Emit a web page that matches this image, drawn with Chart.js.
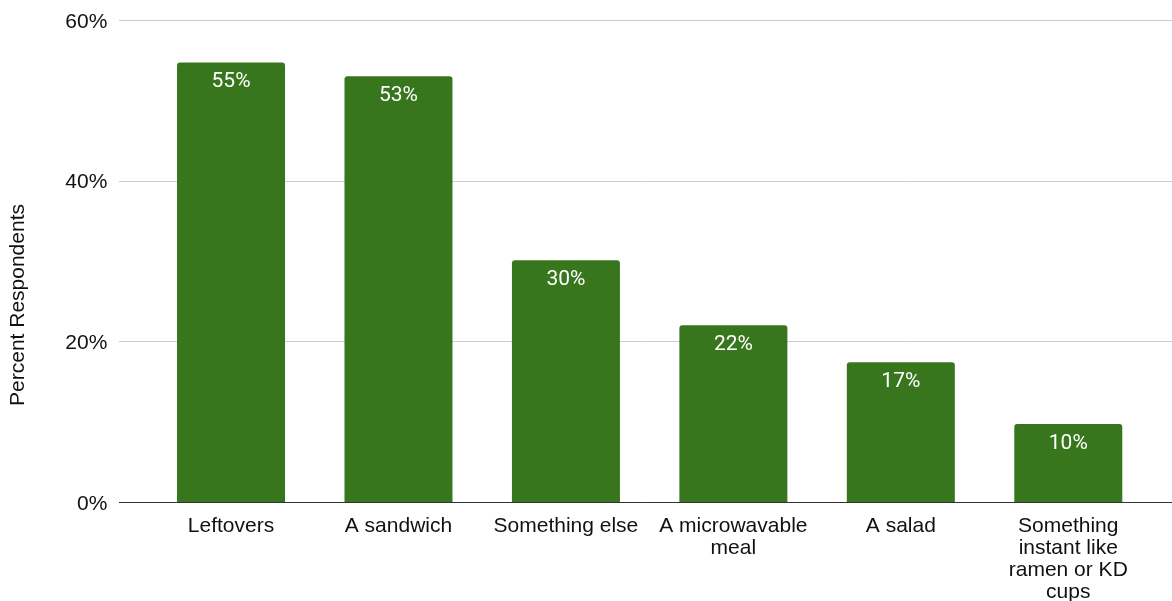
<!DOCTYPE html>
<html>
<head>
<meta charset="utf-8">
<title>Lunch survey</title>
<script src="https://cdn.jsdelivr.net/npm/chart.js@4"></script>
<style>
  html, body { margin: 0; padding: 0; background: #ffffff; }
  #wrap { width: 1172px; height: 601px; }
</style>
</head>
<body>
<div id="wrap"><canvas id="chart" width="1172" height="601"></canvas></div>
<script>
// What respondents usually bring for lunch
const categories = [
  'Leftovers',
  'A sandwich',
  'Something else',
  ['A microwavable', 'meal'],
  'A salad',
  ['Something', 'instant like', 'ramen or KD', 'cups']
];
const percentRespondents = [54.7, 53.0, 30.1, 22.0, 17.4, 9.7];
const yTicks = [0, 20, 40, 60];
const yTitle = 'Percent Respondents';

const BAR_COLOR = '#38761d';
const FONT = '"Liberation Sans", Arial, Helvetica, sans-serif';

// Horizontal gridlines that run the full width under the y tick labels
const gridPlugin = {
  id: 'wideGrid',
  beforeDatasetsDraw(chart) {
    const { ctx } = chart;
    const y = chart.scales.y;
    ctx.save();
    yTicks.forEach(v => {
      const py = Math.round(y.getPixelForValue(v)) + 0.5;
      ctx.beginPath();
      ctx.strokeStyle = v === 0 ? '#333333' : '#cccccc';
      ctx.lineWidth = 1;
      ctx.moveTo(119, py);
      ctx.lineTo(1172, py);
      ctx.stroke();
    });
    ctx.restore();
  },
  afterDatasetsDraw(chart) {
    // redraw the baseline over the bars
    const { ctx } = chart;
    const py = Math.round(chart.scales.y.getPixelForValue(0)) + 0.5;
    ctx.save();
    ctx.beginPath();
    ctx.strokeStyle = '#333333';
    ctx.lineWidth = 1;
    ctx.moveTo(119, py);
    ctx.lineTo(1172, py);
    ctx.stroke();
    ctx.restore();
  }
};

// Value labels inside the top of each bar
const valueLabelPlugin = {
  id: 'valueLabels',
  afterDatasetsDraw(chart) {
    const { ctx } = chart;
    const meta = chart.getDatasetMeta(0);
    ctx.save();
    ctx.fillStyle = '#ffffff';
    ctx.font = '21px Roboto, "Liberation Sans", Arial, sans-serif';
    ctx.textAlign = 'center';
    ctx.textBaseline = 'middle';
    meta.data.forEach((bar, i) => {
      const v = chart.data.datasets[0].data[i];
      ctx.fillText(Math.round(v) + '%', bar.x, bar.y + 19.5);
    });
    ctx.restore();
  }
};

// Rotated y axis title
const yTitlePlugin = {
  id: 'yTitle',
  afterDraw(chart) {
    const { ctx } = chart;
    ctx.save();
    ctx.translate(18, 305);
    ctx.rotate(-Math.PI / 2);
    ctx.fillStyle = '#111111';
    ctx.font = '21px ' + FONT;
    ctx.textAlign = 'center';
    ctx.textBaseline = 'middle';
    ctx.fillText(yTitle, 0, 0);
    ctx.restore();
  }
};

new Chart(document.getElementById('chart'), {
  type: 'bar',
  data: {
    labels: categories,
    datasets: [{
      data: percentRespondents,
      backgroundColor: BAR_COLOR,
      borderRadius: 3,
      borderSkipped: 'start',
      barPercentage: 0.645,
      categoryPercentage: 1.0
    }]
  },
  options: {
    responsive: false,
    animation: false,
    devicePixelRatio: 1,
    layout: { padding: { top: 20, right: 20, bottom: 0, left: 0 } },
    plugins: {
      legend: { display: false },
      tooltip: { enabled: false }
    },
    scales: {
      x: {
        grid: { display: false, drawTicks: false },
        border: { display: false },
        ticks: {
          color: '#111111',
          font: { family: FONT, size: 21, lineHeight: 1.05 },
          padding: 13,
          maxRotation: 0,
          autoSkip: false
        },
        afterFit(scale) {
          scale.height = 99;
          scale.paddingLeft = 0;
          scale.paddingRight = 0;
        }
      },
      y: {
        min: 0,
        max: 60,
        grid: { display: false, drawTicks: false },
        border: { display: false },
        afterBuildTicks(scale) { scale.ticks = yTicks.map(v => ({ value: v })); },
        ticks: {
          color: '#111111',
          font: { family: FONT, size: 21 },
          padding: 40,
          labelOffset: 2,
          callback: v => v + '%'
        },
        afterFit(scale) {
          scale.width = 147.3;
          scale.paddingTop = 0;
          scale.paddingBottom = 0;
        }
      }
    }
  },
  plugins: [gridPlugin, valueLabelPlugin, yTitlePlugin]
});
</script>
</body>
</html>
